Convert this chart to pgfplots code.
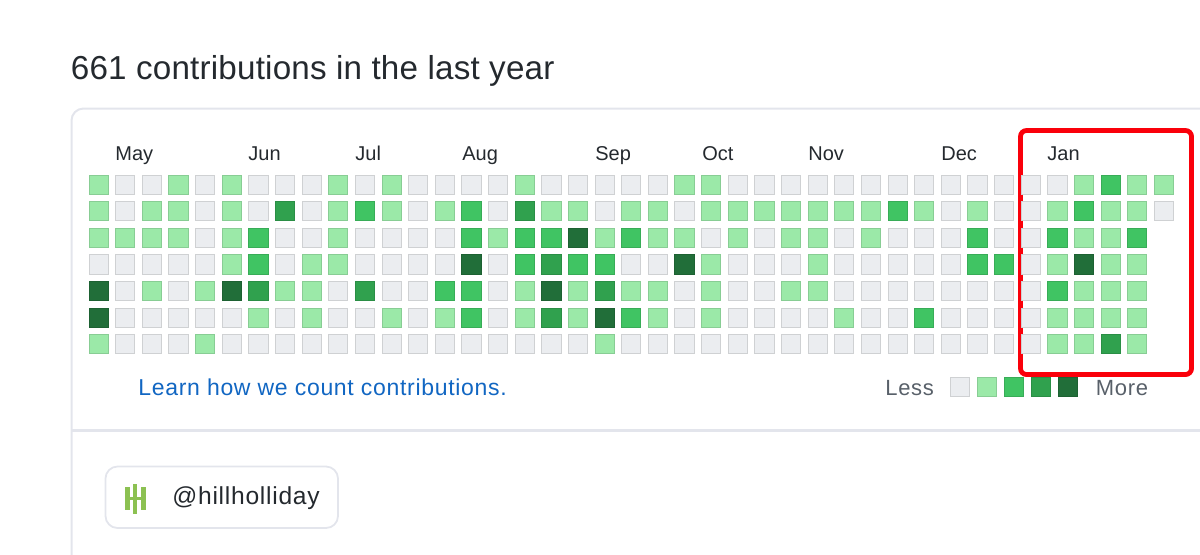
\documentclass[border=0pt]{standalone}
\usepackage{fontspec}
\usepackage{pgfplots}
\pgfplotsset{compat=1.18}
\setmainfont{Liberation Sans}
\newfontfamily\uifont[LetterSpace=3]{Liberation Sans}
\newfontfamily\titlefont[LetterSpace=0.6]{Liberation Sans}
\definecolor{lv0}{HTML}{EBEDF0}
\definecolor{lv1}{HTML}{9BE9A8}
\definecolor{lv2}{HTML}{40C463}
\definecolor{lv3}{HTML}{30A14E}
\definecolor{lv4}{HTML}{216E39}
\definecolor{card}{HTML}{E3E5EC}
\definecolor{ink}{HTML}{24292E}
\definecolor{muted}{HTML}{586069}
\definecolor{linkc}{HTML}{1166C2}
\definecolor{logo}{RGB}{140,193,82}
\pgfdeclareplotmark{cell}{%
  \pgfsetcornersarced{\pgfqpoint{1.2pt}{1.2pt}}%
  \pgfpathmoveto{\pgfqpoint{0pt}{-\pgfplotmarksize}}%
  \pgfpathlineto{\pgfqpoint{\pgfplotmarksize}{-\pgfplotmarksize}}%
  \pgfpathlineto{\pgfqpoint{\pgfplotmarksize}{\pgfplotmarksize}}%
  \pgfpathlineto{\pgfqpoint{-\pgfplotmarksize}{\pgfplotmarksize}}%
  \pgfpathlineto{\pgfqpoint{-\pgfplotmarksize}{-\pgfplotmarksize}}%
  \pgfpathclose
  \pgfusepathqfillstroke}
\pgfplotsset{
  frame/.style={scale only axis,width=600pt,height=277pt,hide axis,clip=false,y dir=reverse,at={(0,0)},anchor=south west},
  lvl/.style={only marks,mark=cell,mark size=4.8pt,mark options={fill=#1,draw=#1!88!black,line width=0.5pt}},
}
\begin{document}
\begin{tikzpicture}
\path[use as bounding box] (0,0) rectangle (600pt,277pt);
\clip (0,0) rectangle (600pt,277pt);
% page elements, axis in pixels
\begin{axis}[frame,xmin=0,xmax=1200,ymin=0,ymax=554]
\draw[card,line width=1pt,rounded corners=6pt] (axis cs:1300,108.5) -- (axis cs:71.5,108.5) -- (axis cs:71.5,700);
\draw[card,line width=1.5pt] (axis cs:71.5,430.5) -- (axis cs:1300,430.5);
\draw[card,line width=0.9pt,rounded corners=6pt] (axis cs:105.5,466.5) rectangle (axis cs:338,528);
\node[anchor=base west,inner sep=0pt,text=ink,font=\titlefont\fontsize{16.6}{18}\selectfont] at (axis cs:70.5,79) {661 contributions in the last year};
\foreach \m/\x in {May/115,Jun/248,Jul/355,Aug/462,Sep/595,Oct/702,Nov/808,Dec/941,Jan/1047}
  {\edef\tmp{\noexpand\node[anchor=base west,inner sep=0pt,text=ink,font=\noexpand\fontsize{10}{12}\noexpand\selectfont] at (axis cs:\x,160) {\m};}\tmp}
\node[anchor=base west,inner sep=0pt,text=linkc,font=\uifont\fontsize{11.5}{13}\selectfont] at (axis cs:138,395.5) {Learn how we count contributions.};
\node[anchor=base west,inner sep=0pt,text=muted,font=\uifont\fontsize{11}{13}\selectfont] at (axis cs:885,395.5) {Less};
\node[anchor=base west,inner sep=0pt,text=muted,font=\uifont\fontsize{11}{13}\selectfont] at (axis cs:1095.5,395.5) {More};
\node[anchor=base west,inner sep=0pt,text=ink,font=\uifont\fontsize{12.3}{14}\selectfont] at (axis cs:172,504) {@hillholliday};
\fill[logo] (axis cs:124.5,486.7) rectangle (axis cs:130,510);
\fill[logo] (axis cs:133.3,484) rectangle (axis cs:136.7,514);
\fill[logo] (axis cs:141,486.7) rectangle (axis cs:146,510);
\fill[logo] (axis cs:124.5,496.7) rectangle (axis cs:146,500);
\addplot[lvl=lv0] coordinates {(960.3,387.3)};
\addplot[lvl=lv1] coordinates {(987,387.3)};
\addplot[lvl=lv2] coordinates {(1014.3,387.3)};
\addplot[lvl=lv3] coordinates {(1041,387.3)};
\addplot[lvl=lv4] coordinates {(1067.7,387.3)};
\end{axis}
% contribution grid: x = week, y = weekday
\begin{axis}[frame,xmin=-3.7064,xmax=41.3556,ymin=-6.9436,ymax=13.8835]
\addplot[lvl=lv0] coordinates {
(1,0)(2,0)(4,0)(6,0)(7,0)(8,0)(10,0)(12,0)(13,0)(14,0)(15,0)(17,0)(18,0)(19,0)(20,0)(21,0)(24,0)(25,0)(26,0)(27,0)(28,0)(29,0)(30,0)(31,0)(32,0)(33,0)(34,0)(35,0)(36,0)
(1,1)(4,1)(6,1)(8,1)(12,1)(15,1)(19,1)(22,1)(32,1)(34,1)(35,1)(40,1)
(4,2)(7,2)(8,2)(10,2)(11,2)(12,2)(13,2)(23,2)(25,2)(28,2)(30,2)(31,2)(32,2)(34,2)(35,2)
(0,3)(1,3)(2,3)(3,3)(4,3)(7,3)(10,3)(11,3)(12,3)(13,3)(15,3)(20,3)(21,3)(24,3)(25,3)(26,3)(28,3)(29,3)(30,3)(31,3)(32,3)(35,3)
(1,4)(3,4)(9,4)(11,4)(12,4)(15,4)(22,4)(24,4)(25,4)(28,4)(29,4)(30,4)(31,4)(32,4)(33,4)(34,4)(35,4)
(1,5)(2,5)(3,5)(4,5)(5,5)(7,5)(9,5)(10,5)(12,5)(15,5)(22,5)(24,5)(25,5)(26,5)(27,5)(29,5)(30,5)(32,5)(33,5)(34,5)(35,5)
(1,6)(2,6)(3,6)(5,6)(6,6)(7,6)(8,6)(9,6)(10,6)(11,6)(12,6)(13,6)(14,6)(15,6)(16,6)(17,6)(18,6)(20,6)(21,6)(22,6)(23,6)(24,6)(25,6)(26,6)(27,6)(28,6)(29,6)(30,6)(31,6)(32,6)(33,6)(34,6)(35,6)
};
\addplot[lvl=lv1] coordinates {
(0,0)(3,0)(5,0)(9,0)(11,0)(16,0)(22,0)(23,0)(37,0)(39,0)(40,0)
(0,1)(2,1)(3,1)(5,1)(9,1)(11,1)(13,1)(17,1)(18,1)(20,1)(21,1)(23,1)(24,1)(25,1)(26,1)(27,1)(28,1)(29,1)(31,1)(33,1)(36,1)(38,1)(39,1)
(0,2)(1,2)(2,2)(3,2)(5,2)(9,2)(15,2)(19,2)(21,2)(22,2)(24,2)(26,2)(27,2)(29,2)(37,2)(38,2)
(5,3)(8,3)(9,3)(23,3)(27,3)(36,3)(38,3)(39,3)
(2,4)(4,4)(7,4)(8,4)(16,4)(18,4)(20,4)(21,4)(23,4)(26,4)(27,4)(37,4)(38,4)(39,4)
(6,5)(8,5)(11,5)(13,5)(16,5)(18,5)(21,5)(23,5)(28,5)(36,5)(37,5)(38,5)(39,5)
(0,6)(4,6)(19,6)(36,6)(37,6)(39,6)
};
\addplot[lvl=lv2] coordinates {
(38,0)
(10,1)(14,1)(30,1)(37,1)
(6,2)(14,2)(16,2)(17,2)(20,2)(33,2)(36,2)(39,2)
(6,3)(16,3)(18,3)(19,3)(33,3)(34,3)
(13,4)(14,4)(36,4)
(14,5)(20,5)(31,5)
};
\addplot[lvl=lv3] coordinates {
(7,1)(16,1)
(17,3)
(6,4)(10,4)(19,4)
(17,5)
(38,6)
};
\addplot[lvl=lv4] coordinates {
(18,2)
(14,3)(22,3)(37,3)
(0,4)(5,4)(17,4)
(0,5)(19,5)
};
\draw[color={rgb,255:red,250;green,0;blue,10},line width=2.4pt,rounded corners=3pt]
  (axis cs:-3.7064,-6.9436) ++(1020.5pt*0.5,-130.5pt*0.5) rectangle ++(171pt*0.5,-244pt*0.5);
\end{axis}
\end{tikzpicture}
\end{document}
